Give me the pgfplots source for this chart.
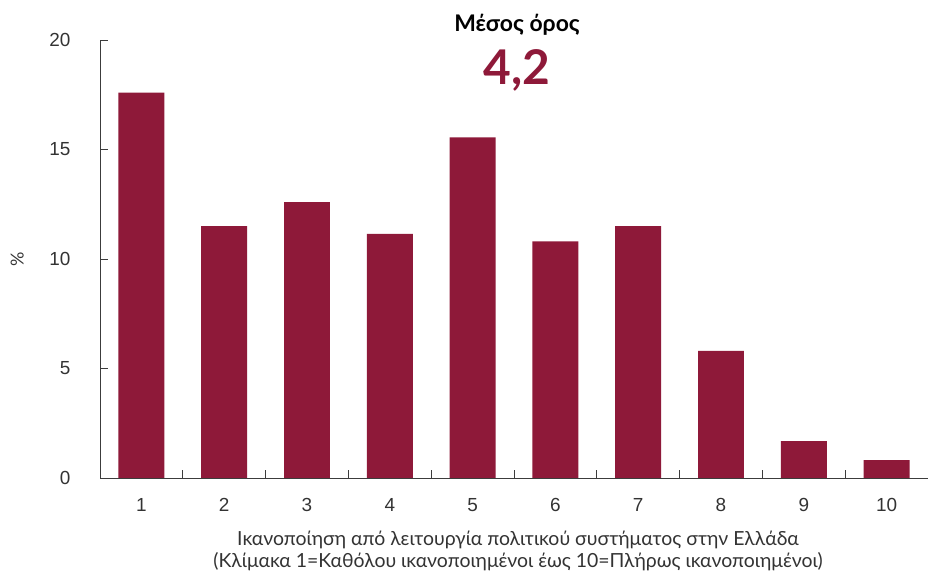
\documentclass[border=0pt]{standalone}
\usepackage{pgfplots}
\pgfplotsset{compat=1.18}
\usepackage{fontspec}
\setmainfont{Liberation Sans}
\newfontfamily\labelfont{Lato}
\definecolor{barred}{RGB}{142,25,57}
\definecolor{axgray}{RGB}{60,60,60}

\begin{document}
\begin{tikzpicture}
\path[use as bounding box] (0bp,0bp) rectangle (928bp,575bp);
\begin{axis}[
  at={(100bp,97bp)}, anchor=south west,
  scale only axis, width=828bp, height=438bp,
  xmin=0.5, xmax=10.5, ymin=0, ymax=20,
  axis lines=left,
  axis line style={-, axgray, line width=0.8pt},
  xtick={1,...,10},
  minor xtick={1.5,2.5,...,9.5},
  ytick={0,5,10,15,20},
  major x tick style={draw=none},
  every tick/.style={axgray, line width=0.8pt},
  major tick length=8bp, minor tick length=8bp,
  tick align=inside,
  /pgf/number format/assume math mode=true,
  ticklabel style={font=\fontsize{19}{22}\selectfont, text=black!80},
  yticklabel style={xshift=-26bp},
  xticklabel style={yshift=-17bp},
  ylabel={\%},
  ylabel style={font=\labelfont\fontsize{18}{20}\selectfont, text=black!80, at={(axis description cs:-0.1,0.5)}, anchor=center},
  xlabel={Ικανοποίηση από λειτουργία πολιτικού συστήματος στην Ελλάδα\\(Κλίμακα 1=Καθόλου ικανοποιημένοι έως 10=Πλήρως ικανοποιημένοι)},
  xlabel style={font=\labelfont\fontsize{19.5}{22.5}\selectfont, text=black!80, align=center, yshift=-12bp, xshift=4bp},
]
\addplot[ybar, bar width=0.555, fill=barred, draw=none] coordinates {
  (1,17.6) (2,11.5) (3,12.6) (4,11.15) (5,15.55)
  (6,10.8) (7,11.5) (8,5.8) (9,1.68) (10,0.82)
};
\end{axis}
\node[font=\labelfont\bfseries\fontsize{23}{26}\selectfont] at (517bp,550bp) {Μέσος όρος};
\node[font=\labelfont\bfseries\fontsize{48}{52}\selectfont, text=barred] at (517bp,505bp) {4,2};
\end{tikzpicture}
\end{document}
